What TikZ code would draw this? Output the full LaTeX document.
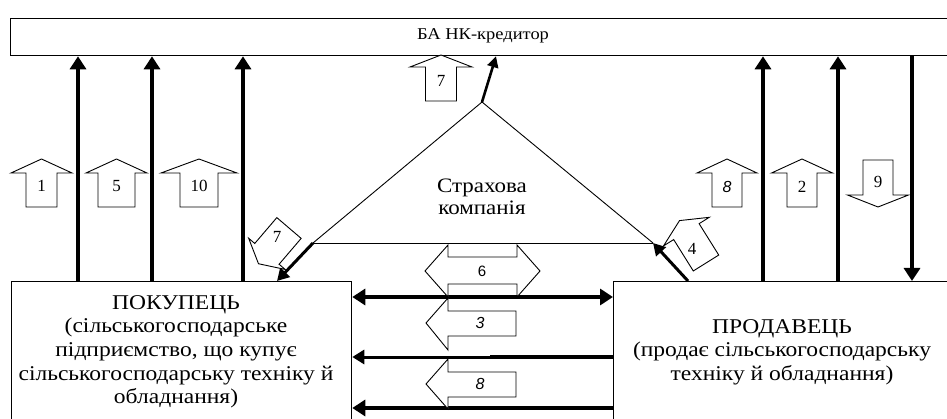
\documentclass[tikz,border=0pt]{standalone}
\usepackage{fontspec}
\setmainfont{Liberation Serif}
\newfontfamily\lsans{Liberation Sans}
\newfontfamily\wideserif[FakeStretch=1.12]{Liberation Serif}
\usetikzlibrary{arrows.meta}
\tikzset{
  boxline/.style={draw=black, line width=1.3pt},
  thin/.style={draw=black, line width=0.9pt},
  blkline/.style={draw=black, line width=0.9pt, fill=white, line join=miter},
  big/.style={line width=3.6pt, -{Triangle[length=13pt,width=16pt]}},
  bigboth/.style={line width=3.6pt, {Triangle[length=13pt,width=16pt]}-{Triangle[length=13pt,width=16pt]}},
  mid/.style={line width=3pt, -{Triangle[length=12pt,width=14pt]}},
  boxtxt/.style={align=center, font=\wideserif\fontsize{21}{23.7}\selectfont, inner sep=0pt},
  numtxt/.style={font=\fontsize{17}{17}\selectfont, inner sep=0pt},
  numsans/.style={font=\lsans\itshape\fontsize{16}{16}\selectfont, inner sep=0pt},
}
% block arrow pointing up, origin at tail centre: shaft width, head width, shaft length, head length
\newcommand\blkarrow[4]{%
  \draw[blkline] ({-#1/2},0) -- ({-#1/2},#3) -- ({-#2/2},#3) -- (0,{#3+#4})
    -- ({#2/2},#3) -- ({#1/2},#3) -- ({#1/2},0) -- cycle;}
\begin{document}
\begin{tikzpicture}[x=1pt,y=1pt]
\useasboundingbox (0,0) rectangle (947,-419);
\clip (0,0) rectangle (947,-419);

% boxes
\node[boxline, anchor=north west, minimum width=950pt, minimum height=37pt, inner sep=0pt] (bank) at (10,-18) {};
\node[font=\wideserif\fontsize{16.5}{20}\selectfont, inner sep=0pt] (banktxt) at (483,-36) {БА НК-кредитор};
\node[boxline, anchor=north west, minimum width=340pt, minimum height=180pt, inner sep=0pt] (buyer) at (11,-281) {};
\node[boxline, anchor=north west, minimum width=360pt, minimum height=180pt, inner sep=0pt] (seller) at (613,-281) {};
\node[boxtxt, anchor=north] (buyertxt) at (176,-295) {ПОКУПЕЦЬ\\(сільськогосподарське\\підприємство, що купує\\сільськогосподарську техніку й\\обладнання)};
\node[boxtxt, anchor=north] (sellertxt) at (782,-319) {ПРОДАВЕЦЬ\\(продає сільськогосподарську\\техніку й обладнання)};

% insurance triangle
\coordinate (apex) at (482,-102);
\coordinate (tl) at (313,-243);
\coordinate (tr) at (653,-243);
\node[align=center, font=\wideserif\fontsize{20.5}{22}\selectfont, inner sep=0pt] (ins) at (482,-197) {Страхова\\компанія};
\draw[thin] (tl) -- (apex) -- (tr);
\draw[thin] (tl) -- (tr);
\draw[line width=3pt, -{Triangle[length=12pt,width=13pt]}] (tl) -- (277,0 |- buyer.north);
\draw[line width=3pt, -{Triangle[length=12pt,width=13pt]}] (688,0 |- seller.north) -- (tr);
\draw[line width=2.6pt, -{Triangle[length=11pt,width=11pt]}] (apex) -- (496,0 |- bank.south);

% vertical connectors
\draw[big] (78,0 |- buyer.north) -- (78,0 |- bank.south);
\draw[big] (152,0 |- buyer.north) -- (152,0 |- bank.south);
\draw[big] (243,0 |- buyer.north) -- (243,0 |- bank.south);
\draw[big] (763,0 |- seller.north) -- (763,0 |- bank.south);
\draw[big] (838,0 |- seller.north) -- (838,0 |- bank.south);
\draw[big] (912,0 |- bank.south) -- (912,0 |- seller.north);

% horizontal connectors
\draw[bigboth] (0,-297 -| buyer.east) -- (0,-297 -| seller.west);
\draw[line width=3.6pt] (0,-357 -| seller.west) -- (490,-357);
\draw[mid] (490,-357) -- (0,-357 -| buyer.east);
\draw[big] (0,-408 -| seller.west) -- (0,-408 -| buyer.east);

% upright block arrows
\begin{scope}[shift={(41.5,-207)}]\blkarrow{31}{61}{34}{14}\end{scope}
\node[numtxt] (n1) at (41.5,-186) {1};
\begin{scope}[shift={(116.5,-207)}]\blkarrow{37}{61}{34}{14}\end{scope}
\node[numtxt] (n5) at (116.5,-186) {5};
\begin{scope}[shift={(199,-207)}]\blkarrow{38}{76}{34}{14}\end{scope}
\node[numtxt] (n10) at (199,-186) {10};
\begin{scope}[shift={(727,-207)}]\blkarrow{30}{60}{34}{14}\end{scope}
\node[numsans] (n8r) at (727,-187) {8};
\begin{scope}[shift={(802,-207)}]\blkarrow{30}{61}{34}{14}\end{scope}
\node[numtxt] (n2) at (802,-187) {2};
\begin{scope}[shift={(878,-160)}, rotate=180]\blkarrow{30}{61}{35}{12}\end{scope}
\node[numtxt] (n9) at (878,-182) {9};
\begin{scope}[shift={(441,-101)}]\blkarrow{31}{62}{34}{12}\end{scope}
\node[numtxt] (n7t) at (441,-81) {7};

% tilted block arrows
\begin{scope}[shift={(289,-228)}, rotate=139.5]\blkarrow{32}{48}{34}{13}\end{scope}
\node[numtxt] (n7l) at (277,-237) {7};
\begin{scope}[shift={(706,-263)}, rotate=32]\blkarrow{30}{54}{37}{13}\end{scope}
\node[numtxt] (n4) at (692,-249) {4};

% middle block arrows
\draw[blkline] (425,-271) -- (448,-245) -- (448,-257) -- (517,-257) -- (517,-245) -- (540,-271)
  -- (517,-297) -- (517,-284) -- (448,-284) -- (448,-297) -- cycle;
\node[font=\lsans\fontsize{15}{15}\selectfont, inner sep=0pt] (n6) at (482,-271) {6};
\draw[blkline] (426,-323) -- (448,-298) -- (448,-311) -- (516,-311) -- (516,-336) -- (448,-336) -- (448,-350) -- cycle;
\node[numsans] (n3) at (480,-323) {3};
\draw[blkline] (426,-384) -- (448,-359) -- (448,-372) -- (516,-372) -- (516,-397) -- (448,-397) -- (448,-409) -- cycle;
\node[numsans] (n8m) at (480,-384) {8};
\end{tikzpicture}
\end{document}
